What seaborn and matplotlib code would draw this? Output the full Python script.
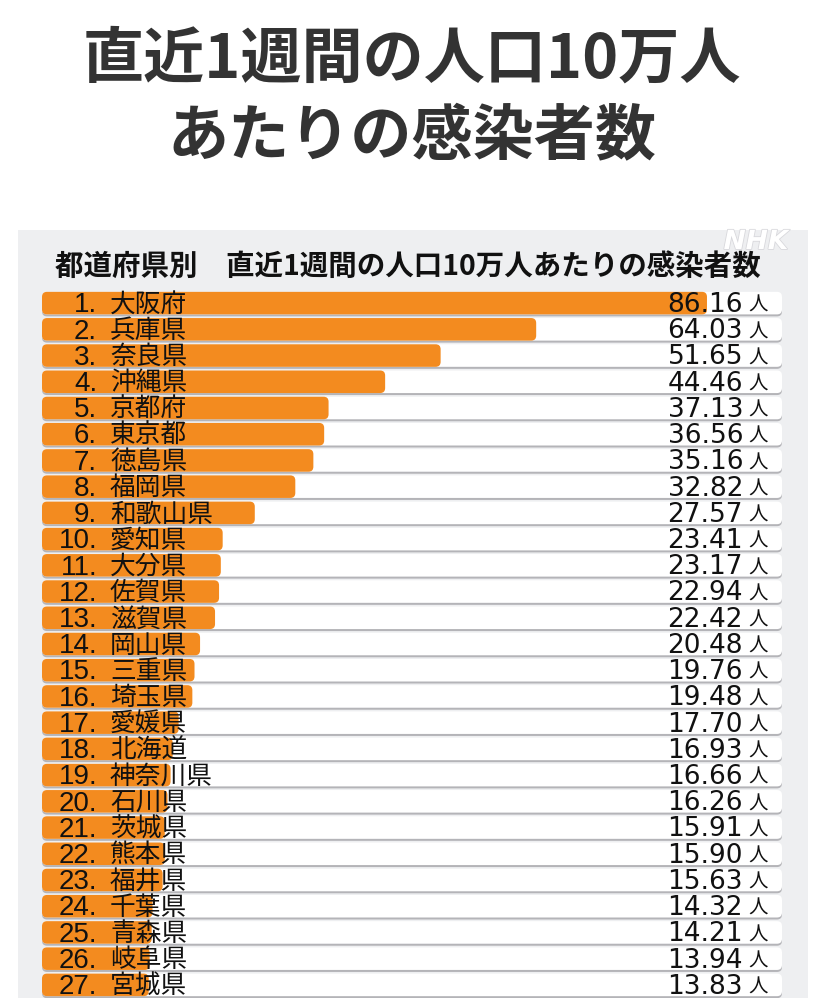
import matplotlib
matplotlib.use("Agg")
import matplotlib.pyplot as plt
import matplotlib.patheffects as pe
from matplotlib.patches import FancyBboxPatch, Rectangle
import pandas as pd
import seaborn as sns

# --- data ---
title_lines = ["直近1週間の人口10万人", "あたりの感染者数"]
header = "都道府県別　直近1週間の人口10万人あたりの感染者数"
ranks = list(range(1, 28))
prefectures = ["大阪府", "兵庫県", "奈良県", "沖縄県", "京都府", "東京都", "徳島県",
               "福岡県", "和歌山県", "愛知県", "大分県", "佐賀県", "滋賀県", "岡山県",
               "三重県", "埼玉県", "愛媛県", "北海道", "神奈川県", "石川県", "茨城県",
               "熊本県", "福井県", "千葉県", "青森県", "岐阜県", "宮城県"]
rates = [86.16, 64.03, 51.65, 44.46, 37.13, 36.56, 35.16, 32.82, 27.57, 23.41,
         23.17, 22.94, 22.42, 20.48, 19.76, 19.48, 17.70, 16.93, 16.66, 16.26,
         15.91, 15.90, 15.63, 14.32, 14.21, 13.94, 13.83]
unit = "人"

plt.rcParams["font.family"] = ["Noto Sans CJK JP", "DejaVu Sans"]

W, H = 824, 1000
fig = plt.figure(figsize=(W / 100, H / 100), dpi=100)
fig.patch.set_facecolor("white")

# light grey panel behind the table
fig.add_artist(Rectangle((18 / W, 1 - 998 / H), 790 / W, 768 / H,
                         transform=fig.transFigure, facecolor="#eeeff1",
                         edgecolor="none", zorder=0))

left_px, right_px, top_px, bottom_px = 42, 782, 290, 998
ax = fig.add_axes([left_px / W, 1 - bottom_px / H,
                   (right_px - left_px) / W, (bottom_px - top_px) / H])
x_max = 95.88

df = pd.DataFrame({"pref": prefectures, "rate": rates})
df["track"] = x_max

sns.barplot(data=df, x="track", y="pref", order=prefectures, orient="h",
            color="white", saturation=1, width=0.86, errorbar=None, ax=ax)
track_patches = list(ax.patches)
sns.barplot(data=df, x="rate", y="pref", order=prefectures, orient="h",
            color="#f38b1f", saturation=1, width=0.86, errorbar=None, ax=ax)
bar_patches = [p for p in ax.patches if p not in track_patches]

ax.set_xlim(0, x_max)
ax.set_ylim(len(df) - 0.5, -0.5)
ax.axis("off")

xu = x_max / (right_px - left_px)
yu = len(df) / (bottom_px - top_px)


def rounded(p, color, z, dy=0.0):
    return FancyBboxPatch((p.get_x(), p.get_y() + dy), p.get_width(), p.get_height(),
                          boxstyle=f"round,pad=0,rounding_size={5 * xu}",
                          mutation_aspect=yu / xu, facecolor=color,
                          edgecolor="none", zorder=z)


for p in track_patches:
    ax.add_patch(rounded(p, "#b4b4b8", 1, dy=2 * yu))
    ax.add_patch(rounded(p, "white", 2))
    p.remove()
for p in bar_patches:
    ax.add_patch(rounded(p, "#f38b1f", 3))
    p.remove()


def xd(px):
    return (px - left_px) * xu


for i, (r, name, v) in enumerate(zip(ranks, prefectures, rates)):
    ax.text(xd(97), i + 0.35, f"{r}.", ha="right", va="baseline", fontsize=20,
            family="Liberation Sans", color="#111111", zorder=5)
    ax.text(xd(110), i + 0.33, name, ha="left", va="baseline", fontsize=18.5,
            color="#111111", zorder=5)
    ax.text(xd(743), i + 0.34, f"{v:.2f}", ha="right", va="baseline", fontsize=19,
            family="DejaVu Sans", color="#111111", zorder=5)
    ax.text(xd(748), i + 0.30, unit, ha="left", va="baseline", fontsize=14,
            color="#111111", zorder=5)

fig.text(0.5, 1 - 60 / H, title_lines[0], ha="center", va="center",
         fontsize=44, fontweight="bold", color="#333333")
fig.text(0.5, 1 - 138 / H, title_lines[1], ha="center", va="center",
         fontsize=44, fontweight="bold", color="#333333")
fig.text(55 / W, 1 - 267 / H, header, ha="left", va="center", fontsize=20.5,
         fontweight="bold", color="#111111")
fig.text(756 / W, 1 - 242 / H, "NHK", ha="center", va="center", fontsize=19,
         fontstyle="italic", fontweight="bold", color="white", family="DejaVu Sans",
         path_effects=[pe.withStroke(linewidth=1.2, foreground="#d8d8dc")])

fig.savefig("out.png", dpi=100)
